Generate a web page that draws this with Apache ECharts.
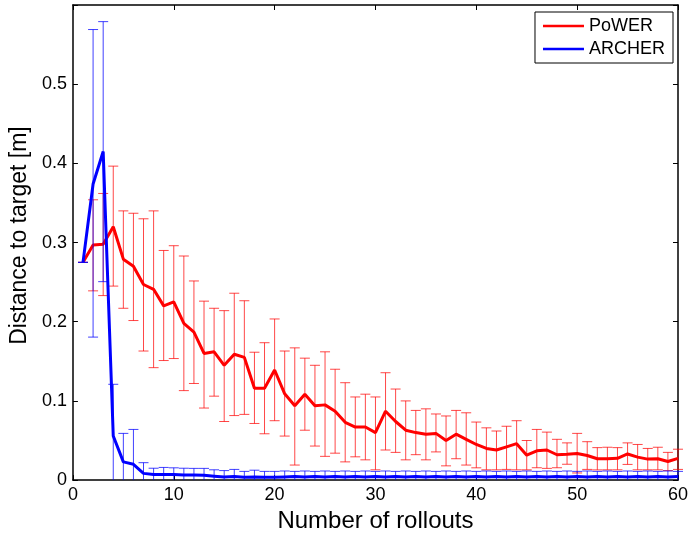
<!DOCTYPE html>
<html>
<head>
<meta charset="utf-8">
<script src="https://cdn.jsdelivr.net/npm/echarts@6/dist/echarts.min.js"></script>
<style>html,body{margin:0;padding:0;background:#fff;}#c{width:691px;height:538px;}</style>
</head>
<body>
<div id="c"></div>
<script>
const rollouts = Array.from({length: 60}, (_, i) => i + 1);
const xTicks = [0, 10, 20, 30, 40, 50, 60];
const yTicks = [0, 0.1, 0.2, 0.3, 0.4, 0.5];

const powerMean = [0.275,0.297,0.298,0.320,0.279,0.270,0.247,0.241,0.220,0.225,
  0.198,0.187,0.160,0.162,0.145,0.159,0.155,0.116,0.116,0.139,
  0.109,0.094,0.1085,0.094,0.095,0.087,0.073,0.067,0.067,0.060,
  0.087,0.074,0.063,0.060,0.058,0.059,0.050,0.058,0.0515,0.045,
  0.040,0.038,0.042,0.046,0.0315,0.037,0.038,0.032,0.0325,0.0335,
  0.031,0.027,0.027,0.0275,0.033,0.029,0.0265,0.027,0.0235,0.0275];
const powerUpper = [0.275,0.354,0.362,0.3965,0.340,0.337,0.330,0.340,0.290,0.296,
  0.283,0.2515,0.226,0.217,0.214,0.236,0.2265,0.1615,0.1735,0.2035,
  0.163,0.167,0.154,0.145,0.162,0.140,0.123,0.105,0.1085,0.105,
  0.1356,0.115,0.100,0.088,0.090,0.0835,0.081,0.088,0.085,0.0733,
  0.066,0.062,0.068,0.075,0.050,0.064,0.0606,0.0515,0.047,0.059,
  0.0485,0.041,0.0415,0.041,0.047,0.045,0.040,0.0415,0.035,0.039];
const powerLower = [0.275,0.239,0.233,0.245,0.217,0.2015,0.163,0.142,0.151,0.1535,
  0.113,0.122,0.091,0.106,0.074,0.0815,0.083,0.0715,0.0585,0.075,
  0.0556,0.019,0.063,0.043,0.030,0.034,0.023,0.0294,0.0256,0.013,
  0.038,0.035,0.0256,0.0321,0.0256,0.0356,0.018,0.027,0.019,0.0155,
  0.013,0.013,0.0135,0.013,0.013,0.0156,0.0148,0.0156,0.020,0.009,
  0.0135,0.0129,0.013,0.013,0.0198,0.013,0.013,0.013,0.012,0.0135];

const archerMean = [0.275,0.374,0.415,0.0556,0.023,0.020,0.0085,0.007,0.007,0.007,
  0.0065,0.0065,0.006,0.005,0.004,0.0045,0.0035,0.004,0.0035,0.0035,
  0.004,0.0045,0.004,0.0045,0.004,0.0045,0.004,0.0045,0.004,0.0045,
  0.004,0.0045,0.004,0.0045,0.004,0.0045,0.004,0.0045,0.004,0.0045,
  0.004,0.0045,0.004,0.0045,0.004,0.0045,0.004,0.0045,0.004,0.0045,
  0.004,0.0045,0.004,0.0045,0.004,0.0045,0.004,0.0045,0.004,0.0045];
const archerUpper = [0.275,0.569,0.579,0.121,0.059,0.064,0.022,0.015,0.016,0.0155,
  0.015,0.0148,0.0148,0.013,0.012,0.0135,0.011,0.0125,0.011,0.011,
  0.0115,0.011,0.0115,0.011,0.0115,0.011,0.0115,0.011,0.0115,0.011,
  0.0115,0.011,0.0115,0.011,0.0115,0.011,0.0115,0.011,0.0115,0.011,
  0.0115,0.011,0.0115,0.011,0.0115,0.011,0.0115,0.011,0.0115,0.011,
  0.0115,0.011,0.0115,0.011,0.0115,0.011,0.0115,0.011,0.0115,0.011];
const archerLower = [0.275,0.1806,0.2506,-0.010,-0.013,-0.024,-0.005,-0.001,-0.002,-0.0015,
  -0.002,-0.0018,-0.0028,-0.003,-0.004,-0.0045,-0.004,-0.0045,-0.004,-0.004,
  -0.0035,-0.002,-0.0035,-0.002,-0.0035,-0.002,-0.0035,-0.002,-0.0035,-0.002,
  -0.0035,-0.002,-0.0035,-0.002,-0.0035,-0.002,-0.0035,-0.002,-0.0035,-0.002,
  -0.0035,-0.002,-0.0035,-0.002,-0.0035,-0.002,-0.0035,-0.002,-0.0035,-0.002,
  -0.0035,-0.002,-0.0035,-0.002,-0.0035,-0.002,-0.0035,-0.002,-0.0035,-0.002];

const FONT = '"Liberation Sans", Arial, sans-serif';

function errData(lo, hi) { return rollouts.map((x, i) => [x, lo[i], hi[i]]); }
function lineData(m) { return rollouts.map((x, i) => [x, m[i]]); }

function errRender(color) {
  return function (params, api) {
    const x = api.value(0);
    const lo = api.coord([x, api.value(1)]);
    const hi = api.coord([x, api.value(2)]);
    const cs = params.coordSys;
    const yTop = cs.y, yBot = cs.y + cs.height;
    const clampY = v => Math.max(yTop, Math.min(yBot, v));
    const w = 5;
    const st = { stroke: color, lineWidth: 1 };
    const children = [
      { type: 'line', shape: { x1: hi[0], y1: clampY(hi[1]), x2: lo[0], y2: clampY(lo[1]) }, style: st }
    ];
    if (hi[1] >= yTop && hi[1] <= yBot) children.push({ type: 'line', shape: { x1: hi[0] - w, y1: hi[1], x2: hi[0] + w, y2: hi[1] }, style: st });
    if (lo[1] >= yTop && lo[1] <= yBot) children.push({ type: 'line', shape: { x1: lo[0] - w, y1: lo[1], x2: lo[0] + w, y2: lo[1] }, style: st });
    return { type: 'group', children };
  };
}

const chart = echarts.init(document.getElementById('c'), null, { renderer: 'canvas' });
const axisCommon = {
  min: 0,
  axisLine: { show: true, onZero: false, lineStyle: { color: '#000', width: 1.5 } },
  axisTick: { show: true, inside: true, length: 5, lineStyle: { color: '#000', width: 1 } },
  splitLine: { show: false }
};
const lineIcon = 'path://M0,0H40V2.2H0Z';
chart.setOption({
  animation: false,
  backgroundColor: '#fff',
  grid: { left: 70.5, right: 12, top: 5, bottom: 53.5, containLabel: false },
  xAxis: [
    Object.assign({}, axisCommon, {
      type: 'value', position: 'bottom', max: 60, interval: 10,
      axisLabel: { color: '#000', fontSize: 18, fontFamily: FONT, margin: 6,
        formatter: v => xTicks.includes(v) ? String(v) : '' },
      name: 'Number of rollouts', nameLocation: 'middle', nameGap: 26,
      nameTextStyle: { color: '#000', fontSize: 24, fontFamily: FONT }
    }),
    Object.assign({}, axisCommon, {
      type: 'value', position: 'top', max: 60, interval: 10, axisLabel: { show: false }
    })
  ],
  yAxis: [
    Object.assign({}, axisCommon, {
      type: 'value', position: 'left', max: 0.6, interval: 0.1,
      axisLabel: { color: '#000', fontSize: 18, fontFamily: FONT, margin: 6,
        formatter: v => { const r = Math.round(v * 10) / 10; return yTicks.includes(r) ? String(r) : ''; } },
      name: 'Distance to target [m]', nameLocation: 'middle', nameGap: 40,
      nameTextStyle: { color: '#000', fontSize: 23, fontFamily: FONT, padding: [0, 0, 0, 14] }
    }),
    Object.assign({}, axisCommon, {
      type: 'value', position: 'right', max: 0.6, interval: 0.1, axisLabel: { show: false }
    })
  ],
  legend: {
    right: 18, top: 12, orient: 'vertical', align: 'left',
    backgroundColor: '#fff', borderColor: '#000', borderWidth: 1, borderRadius: 0,
    padding: [5, 8, 5, 8], itemGap: 5, itemWidth: 41, itemHeight: 18,
    textStyle: { color: '#000', fontSize: 18, fontFamily: FONT },
    data: [{ name: 'PoWER', icon: lineIcon }, { name: 'ARCHER', icon: lineIcon }]
  },
  series: [
    { type: 'custom', name: 'PoWER err', data: errData(powerLower, powerUpper), renderItem: errRender('rgba(255,0,0,0.72)'), z: 2, silent: true },
    { type: 'line', name: 'PoWER', data: lineData(powerMean), symbol: 'none', showSymbol: false,
      lineStyle: { color: '#ff0000', width: 3 }, itemStyle: { color: '#ff0000' }, z: 3 },
    { type: 'custom', name: 'ARCHER err', data: errData(archerLower, archerUpper), renderItem: errRender('rgba(0,0,255,0.75)'), z: 4, silent: true },
    { type: 'line', name: 'ARCHER', data: lineData(archerMean), symbol: 'none', showSymbol: false,
      lineStyle: { color: '#0000ff', width: 3 }, itemStyle: { color: '#0000ff' }, z: 5 }
  ]
});
</script>
</body>
</html>
